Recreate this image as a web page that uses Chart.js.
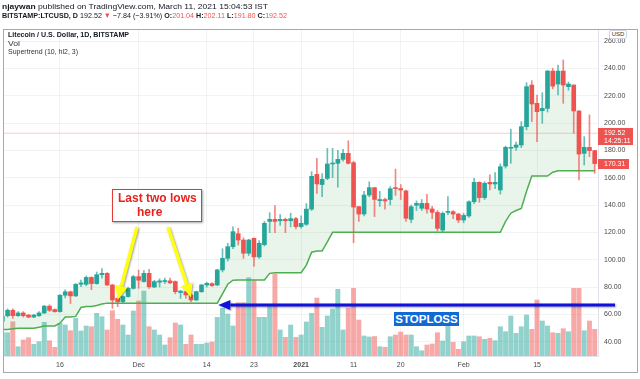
<!DOCTYPE html>
<html>
<head>
<meta charset="utf-8">
<title>LTCUSD 1D - Supertrend</title>
<script src="https://cdn.jsdelivr.net/npm/chart.js@4.4.1/dist/chart.umd.min.js"></script>
<style>
  body { margin: 0; background: #fff; }
  #wrap { position: relative; width: 640px; height: 379px; overflow: hidden; font-family: "Liberation Sans", Arial, sans-serif; }
  #chart { position: absolute; left: 0; top: 0; }
  .txt { position: absolute; white-space: nowrap; transform-origin: left center; color: #131722; line-height: 1; }
  .dn { color: #ef5350; }
  #frame { position: absolute; left: 3px; top: 29px; width: 635px; height: 344px; box-sizing: border-box; border: 1px solid #a8a8a8; pointer-events: none; }
  #usd { position: absolute; left: 609px; top: 30px; width: 18px; height: 9px; box-sizing: border-box; border: 1px solid #d1d4dc; border-radius: 2px; background: #fff; font-size: 6px; line-height: 7px; text-align: center; color: #333; }
  .plabel { position: absolute; left: 598px; background: #ef5350; color: #fff; font-size: 7px; line-height: 8px; padding-left: 6px; box-sizing: border-box; }
  #note { position: absolute; left: 112px; top: 189px; width: 90px; height: 33px; box-sizing: border-box; border: 1.5px solid #e53935; background: #fff; box-shadow: 1px 1px 2px rgba(0,0,0,0.35); color: #e8231b; font-weight: bold; font-size: 12px; line-height: 13.5px; padding: 2px 0 0 5px; }
  #stop { position: absolute; left: 394px; top: 312px; width: 65px; height: 14px; background: #1169d4; color: #fff; font-weight: bold; font-size: 11.5px; line-height: 14px; text-align: center; }
</style>
</head>
<body>
<div id="wrap">
  <canvas id="chart" width="640" height="379"></canvas>
  <div id="frame"></div>
  <div class="txt" id="h1" style="left:2px;top:3px;font-size:8px"><b>njaywan</b> published on TradingView.com, March 11, 2021 15:04:53 IST</div>
  <div class="txt" id="h2" style="left:2px;top:12px;font-size:8px"><b>BITSTAMP:LTCUSD, D</b> 192.52 <span class="dn">▼</span> −7.84 (−3.91%) <b>O:</b><span class="dn">201.04</span> <b>H:</b><span class="dn">202.11</span> <b>L:</b><span class="dn">191.80</span> <b>C:</b><span class="dn">192.52</span></div>
  <div class="txt" id="l1" style="left:8px;top:31px;font-size:7.5px"><b>Litecoin / U.S. Dollar, 1D, BITSTAMP</b></div>
  <div class="txt" id="l2" style="left:8px;top:39.5px;font-size:7.5px;color:#333">Vol</div>
  <div class="txt" id="l3" style="left:8px;top:48px;font-size:7.5px;color:#333">Supertrend (10, hl2, 3)</div>
  <div id="usd">USD</div>
  <div class="plabel" id="lbl1">192.52<br>14:25:11</div>
  <div class="plabel" id="lbl2">170.31</div>
  <div id="note">Last two lows<br><span style="margin-left:19px">here</span></div>
  <div id="stop">STOPLOSS</div>
</div>
<script>
// daily candles, 5 Nov 2020 .. 26 Feb 2021 (index = day number)
const opens = [55, 59, 63, 59, 61, 59.5, 58, 59, 61, 66,
  63.5, 62, 74, 76.5, 73.5, 82, 82, 87, 82.5, 89,
  90, 81.5, 71.7, 69.3, 73, 79, 87.6, 84, 90, 80,
  83.5, 84, 84.5, 84, 76, 76.6, 74.2, 70.5, 76.6, 81.5,
  82.5, 81.5, 92.5, 101, 109.5, 119, 114.4, 104.7, 115.6, 102,
  111, 128, 129.5, 128.5, 129.5, 128.5, 130, 124.2, 125.9, 137,
  162.4, 155, 159.5, 170, 170.5, 173.4, 177.8, 171, 138.8, 133.4,
  147.3, 152.7, 143.2, 144, 144, 152.7, 152, 150.3, 129.5, 139.8,
  137.6, 141.2, 137.1, 134.6, 121.7, 134.6, 135.1, 133.4, 129, 132,
  142.4, 156.6, 145.4, 156.6, 155.4, 151, 168.5, 181.5, 182.2, 183.9,
  197.3, 227.8, 214.4, 209, 210.7, 238, 228.5, 238, 226.6, 227.8,
  208.8, 177.8, 182.2, 179.8];
const highs = [59, 64, 64, 62, 62, 60, 60, 62, 66.5, 67,
  64, 74.5, 78, 77, 82.5, 85, 88, 87.5, 91, 93.5,
  90.5, 82, 72.5, 73.5, 80, 88.5, 92.4, 92, 93, 85,
  86, 86.5, 86.5, 84.5, 77.5, 77, 75, 77, 82, 83.5,
  83, 93, 108, 112, 124, 123, 116, 115, 116, 114,
  128, 134.4, 139.5, 133, 130.5, 134, 131, 132, 141, 164.4,
  174.1, 163, 181.5, 181.5, 180, 180.7, 187, 172, 139, 150,
  157, 153, 150, 145, 153.5, 166.3, 155, 151, 140, 143,
  144, 147.8, 139, 136, 135, 146.1, 136, 134, 134, 143,
  159.5, 157, 157, 162, 163.7, 170, 183, 195.4, 186, 201,
  229.5, 231, 220.5, 222.2, 238.5, 240, 242.4, 246.1, 230, 228,
  209, 190, 205.9, 180];
const lows = [54.5, 58, 57, 58.5, 58, 57.5, 57.5, 58.5, 60.5, 62,
  61.5, 61.5, 72, 68, 73, 80.3, 81, 78, 82, 86.5,
  81, 64.4, 65.6, 68.5, 72.5, 78.5, 79, 83.5, 79, 79.5,
  80, 82.5, 82.5, 75, 71.7, 71.7, 69, 70, 76, 80,
  80.5, 81, 91, 99, 108, 110.7, 101, 103, 95, 101,
  110, 119.8, 119.8, 125, 119.8, 124, 122.5, 123, 125, 136,
  148.5, 146.1, 158.5, 160, 153, 172, 170, 112.4, 128, 132,
  146, 131.5, 139, 137, 140, 147, 144, 128, 127, 136,
  136, 134, 130, 121, 120.5, 133, 130, 127, 127, 131,
  141, 142, 144, 151, 152, 148, 167, 170.5, 180, 182,
  195, 201, 186.3, 199.8, 208, 225, 220.5, 214.4, 224, 192.4,
  158.3, 169.3, 175.4, 163.2];
const closes = [58.5, 63, 59, 61, 59, 58, 59.5, 61, 66, 63,
  62, 74, 76.5, 73.5, 82, 83, 87, 82.5, 89, 90,
  81.5, 70.5, 69.3, 73, 79, 87.6, 85, 90, 80.2, 84,
  84.5, 84.5, 83, 76.6, 77, 74.2, 70.5, 76.6, 81.5, 82.7,
  81, 92.5, 101, 109.5, 120.5, 114.4, 104.7, 114.4, 102, 112,
  126.6, 129.5, 128, 129.5, 128.5, 130, 124.2, 126.6, 137, 161,
  155.4, 158.8, 170, 170.5, 173.4, 177.8, 170.5, 138.5, 133.4, 147.3,
  152.7, 144.1, 144, 143, 151.9, 152, 151, 130.3, 138.8, 141.2,
  141.2, 137.1, 134.6, 122.9, 133.9, 135.1, 133.4, 129, 132.4, 142.4,
  156.6, 145.4, 155.9, 155.4, 156.6, 168, 182.2, 182.2, 183.9, 197.3,
  226.6, 213.9, 208.3, 210.7, 238, 227, 238, 227.8, 228.5, 208.8,
  177.3, 182.2, 179.8, 170.31];
const volumes = [23.3, 23.3, 34.3, 9.3, 16, 18.3, 11.7, 14.3, 33.7, 15.3,
  8.7, 32.7, 31, 25.3, 37.7, 25, 30, 29.3, 42.7, 39.3,
  26, 45.3, 36.7, 31, 21, 45, 55, 65, 29.3, 26,
  21, 11, 18.3, 33, 31, 11.7, 21, 11.7, 11.7, 13,
  14, 38.7, 47.7, 42, 30, 53.3, 53.3, 78.3, 75.3, 38.7,
  38.7, 49.3, 82, 26, 18.7, 31, 18.7, 21, 34, 42.7,
  58, 28.7, 40, 47, 66.7, 26, 48, 67.7, 36, 20,
  19, 19.5, 9.3, 8.7, 19.3, 21, 24, 21, 21, 9.3,
  5.3, 11, 12, 23.3, 15, 31, 13.7, 6.7, 14.3, 20,
  20, 19.3, 16.7, 17.7, 15.3, 29.3, 24.3, 40, 22.7, 29.3,
  41, 26.7, 56, 35, 30, 23.3, 22.7, 27.3, 24.3, 67.7,
  67.7, 25.3, 35, 26.7];
const supertrend = [49, 49, 49.5, 49.8, 49.8, 49.8, 49.8, 50.5, 51.5, 51.5,
  51.5, 53.5, 58, 58, 58.5, 65, 65.8, 65.8, 66.5, 67.5,
  68.2, 68.2, 68.2, 68.2, 68.2, 68.2, 68.2, 68.2, 68.2, 68.2,
  68.2, 68.2, 68.2, 68.2, 68.2, 68.2, 68.2, 68.2, 68.2, 68.2,
  68.2, 68.2, 75, 82, 85, 85.2, 85.2, 85.2, 85.2, 85.2,
  85.2, 90, 90.5, 90.5, 90.5, 90.5, 90.5, 90.5, 96, 105.5,
  106.3, 106.3, 113, 120, 120, 120, 120, 120, 120, 120,
  120, 120, 120, 120, 120, 120, 120, 120, 120, 120,
  120, 120, 120, 120, 120, 120, 120, 120, 120, 120,
  120, 120, 120, 120, 120, 120, 128, 134, 136, 137.5,
  150, 161.2, 161.2, 161.2, 161.2, 164, 165, 165, 165, 165,
  165, 165, 165, 165];

const tickDays = [11, 26, 39, 48, 57, 67, 76, 88, 102];
const tickLabels = ["16", "Dec", "14", "23", "2021", "11", "20", "Feb", "15"];
const priceTicks = [40, 60, 80, 100, 120, 140, 160, 180, 200, 220, 240, 260];
const lastPrice = 192.52;
const stopLoss = 66.8;     // level of the hand drawn STOPLOSS arrow
const stopFromDay = 41.2;  // where its head sits
const lowDays = [22, 36];  // the two lows the yellow arrows point at

const upColor = "#26a69a", downColor = "#ef5350";
const isUp = opens.map((o, i) => closes[i] >= o);
const days = opens.map((o, i) => i);
const xMin = 0.13, xMax = 113.63;
const font = "'Liberation Sans', Arial, sans-serif";

function drawArrow(ctx, x1, y1, x2, y2, color, width, headLen, headW) {
  const a = Math.atan2(y2 - y1, x2 - x1);
  const bx = x2 - headLen * Math.cos(a), by = y2 - headLen * Math.sin(a);
  ctx.beginPath();
  ctx.moveTo(x1, y1);
  ctx.lineTo(bx, by);
  ctx.strokeStyle = color;
  ctx.lineWidth = width;
  ctx.stroke();
  ctx.beginPath();
  ctx.moveTo(x2, y2);
  ctx.lineTo(bx + headW * Math.sin(a), by - headW * Math.cos(a));
  ctx.lineTo(bx - headW * Math.sin(a), by + headW * Math.cos(a));
  ctx.closePath();
  ctx.fillStyle = color;
  ctx.fill();
}

const arrowsPlugin = {
  id: "arrows",
  afterDraw(chart) {
    const { ctx, scales: { x, y }, chartArea } = chart;
    ctx.save();
    ctx.shadowColor = "rgba(0,0,0,0.35)";
    ctx.shadowBlur = 2;
    ctx.shadowOffsetX = 1;
    ctx.shadowOffsetY = 1;
    // STOPLOSS arrow
    const sy = y.getPixelForValue(stopLoss);
    drawArrow(ctx, chartArea.right + 17, sy, x.getPixelForValue(stopFromDay), sy, "#1010e0", 3, 12, 5);
    // yellow arrows from the note box to the two lows
    const starts = [[137, 227], [168, 227]];
    lowDays.forEach((d, k) => {
      const ty = y.getPixelForValue((opens[d] + closes[d]) / 2);
      drawArrow(ctx, starts[k][0], starts[k][1], x.getPixelForValue(d), ty, "#ffff10", 3.5, 14, 6);
    });
    ctx.restore();
  }
};

const chart = new Chart(document.getElementById("chart"), {
  type: "bar",
  data: {
    datasets: [
      {
        label: "Vol",
        yAxisID: "yv",
        data: days.map(i => ({ x: i, y: volumes[i] })),
        backgroundColor: isUp.map(u => u ? "rgba(38,166,154,0.5)" : "rgba(239,83,80,0.5)"),
        barThickness: 4.3,
        grouped: false,
        order: 10
      },
      {
        type: "line",
        label: "Supertrend",
        data: days.map(i => ({ x: i, y: supertrend[i] })),
        borderColor: "#4caf50",
        borderWidth: 1.5,
        pointRadius: 0,
        tension: 0,
        order: 3
      },
      {
        type: "line",
        label: "body middle",
        data: days.map(i => ({ x: i, y: (opens[i] + closes[i]) / 2 })),
        borderColor: "transparent",
        borderWidth: 0,
        pointRadius: 0,
        fill: 1,
        backgroundColor: "rgba(76,175,80,0.12)",
        order: 4
      },
      {
        type: "line",
        label: "last price",
        data: [{ x: xMin, y: lastPrice }, { x: xMax, y: lastPrice }],
        borderColor: "rgba(239,83,80,0.3)",
        borderWidth: 1,
        pointRadius: 0,
        order: 5
      },
      {
        label: "wicks",
        data: days.map(i => ({ x: i, y: [lows[i], highs[i]] })),
        backgroundColor: isUp.map(u => u ? "rgba(38,166,154,0.7)" : "rgba(239,83,80,0.7)"),
        barThickness: 1,
        grouped: false,
        order: 2
      },
      {
        label: "LTCUSD",
        data: days.map(i => ({ x: i, y: [opens[i], closes[i]] })),
        backgroundColor: isUp.map(u => u ? upColor : downColor),
        barThickness: 4,
        minBarLength: 1,
        grouped: false,
        order: 1
      }
    ]
  },
  options: {
    responsive: false,
    animation: false,
    devicePixelRatio: 1,
    layout: { padding: { top: 30, left: 3, right: 0, bottom: 0 } },
    plugins: { legend: { display: false }, tooltip: { enabled: false } },
    scales: {
      x: {
        type: "linear",
        min: xMin,
        max: xMax,
        offset: false,
        afterBuildTicks: s => { s.ticks = tickDays.map(v => ({ value: v })); },
        afterFit: s => { s.height = 23; },
        grid: { color: "rgba(42,46,57,0.06)", drawTicks: false, offset: false },
        border: { color: "#e0e3eb" },
        ticks: {
          padding: 5,
          color: "#4a4a4a",
          maxRotation: 0,
          autoSkip: false,
          font: c => ({ family: font, size: 7, weight: tickLabels[c.index] === "2021" ? "bold" : "normal" }),
          callback: v => tickLabels[tickDays.indexOf(v)]
        }
      },
      y: {
        position: "right",
        min: 29.52,
        max: 268.05,
        afterBuildTicks: s => { s.ticks = priceTicks.map(v => ({ value: v })); },
        afterFit: s => { s.width = 42; },
        grid: { color: "rgba(42,46,57,0.06)", drawTicks: false },
        border: { color: "#e0e3eb" },
        ticks: {
          padding: 6,
          color: "#4a4a4a",
          font: { family: font, size: 7 },
          callback: v => v.toFixed(2)
        }
      },
      yv: { display: false, min: 0, max: 326 }
    }
  },
  plugins: [arrowsPlugin]
});

// price labels on the axis
const yScale = chart.scales.y;
const lbl1 = document.getElementById("lbl1");
lbl1.style.top = (yScale.getPixelForValue(lastPrice) - 5.5) + "px";
lbl1.style.width = "35px";
lbl1.style.height = "17px";
lbl1.style.paddingTop = "1px";
const lbl2 = document.getElementById("lbl2");
lbl2.style.top = (yScale.getPixelForValue(closes[closes.length - 1]) - 5) + "px";
lbl2.style.width = "31px";
lbl2.style.height = "10px";
lbl2.style.lineHeight = "10px";

function fitWidth(id, w) {
  const el = document.getElementById(id);
  const r = el.getBoundingClientRect().width;
  if (r > 0) el.style.transform = "scaleX(" + (w / r) + ")";
}
fitWidth("h1", 266);
fitWidth("h2", 285);
fitWidth("l1", 121);
fitWidth("l2", 12);
fitWidth("l3", 70);
</script>
</body>
</html>
